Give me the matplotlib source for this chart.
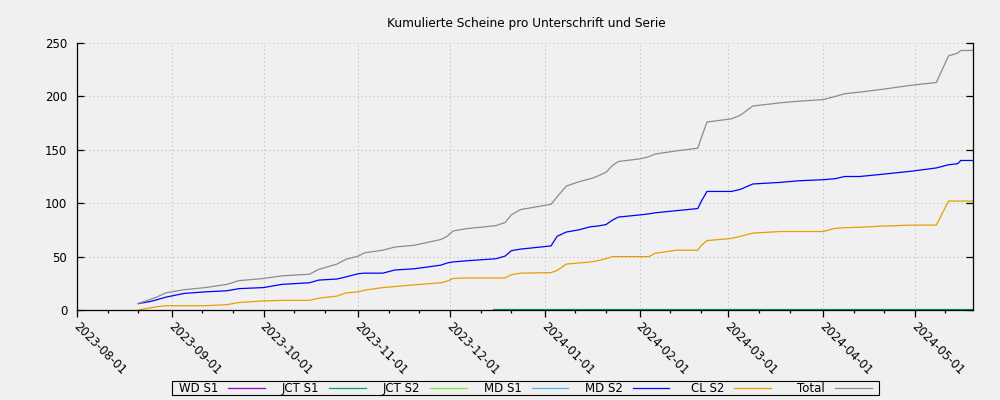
import matplotlib
matplotlib.use("Agg")
import matplotlib.pyplot as plt
import matplotlib.dates as mdates
import matplotlib.transforms as mtransforms
from matplotlib.lines import Line2D
from matplotlib.patches import Rectangle
import pandas as pd

# ---------------- data ----------------
title = "Kumulierte Scheine pro Unterschrift und Serie"

dates = [
    "2023-08-21", "2023-08-25", "2023-08-27", "2023-08-30", "2023-09-05",
    "2023-09-12", "2023-09-19", "2023-09-23", "2023-10-01", "2023-10-07",
    "2023-10-16", "2023-10-19", "2023-10-25", "2023-10-28", "2023-11-01",
    "2023-11-03", "2023-11-09", "2023-11-13", "2023-11-19", "2023-11-28",
    "2023-11-30", "2023-12-02", "2023-12-06", "2023-12-16", "2023-12-19",
    "2023-12-21", "2023-12-24", "2024-01-03", "2024-01-05", "2024-01-08",
    "2024-01-12", "2024-01-16", "2024-01-18", "2024-01-21", "2024-01-23",
    "2024-01-25", "2024-02-01", "2024-02-04", "2024-02-06", "2024-02-13",
    "2024-02-20", "2024-02-21", "2024-02-23", "2024-03-02", "2024-03-05",
    "2024-03-09", "2024-03-18", "2024-03-24", "2024-04-01", "2024-04-05",
    "2024-04-08", "2024-04-13", "2024-04-20", "2024-04-30", "2024-05-08",
    "2024-05-12", "2024-05-15", "2024-05-16", "2024-05-20",
]
total = [
    6, 10, 12, 16, 19,
    21, 24, 27.5, 29.5, 32,
    33.5, 38, 43, 47.5, 50.5,
    53.5, 56, 59, 60.5, 66,
    69, 74, 76, 79, 82,
    89, 94, 99, 106, 116,
    120, 123, 125, 129, 135,
    139, 141.5, 143.5, 146, 149,
    151.5, 160, 176, 179, 182.5,
    191, 194, 195.5, 197, 200,
    202.5, 204, 206.5, 210.5, 213,
    238, 240.5, 243, 243,
]
md_s2 = [
    6, 8, 9.5, 12, 15.5,
    17, 18, 20, 21, 24,
    25.5, 28, 29, 31, 34,
    34.5, 34.5, 37.5, 38.5, 42,
    44, 45, 46, 48, 50.5,
    55.5, 57, 60, 69, 73,
    75, 78, 78.5, 80, 84,
    87, 89, 90, 91, 93,
    95, 101, 111, 111, 113,
    118, 119.5, 121, 122, 123,
    125, 125, 127, 130, 133,
    136, 137, 140, 140,
]
cl_s2 = [
    0, 2, 3, 4, 4,
    4, 5, 7, 8.5, 9,
    9, 11, 13, 16, 17,
    18.5, 21, 22, 23.5, 25.5,
    27, 29.5, 30, 30, 30,
    33, 34.5, 35, 37, 43,
    44, 45, 46, 48, 50,
    50, 50, 50, 53, 56,
    56, 60, 65, 67, 69,
    72, 73.5, 73.5, 73.5, 76.5,
    77, 77.5, 78.5, 79.5, 79.5,
    102, 102, 102, 102,
]
jct_s1_dates = ["2023-12-15", "2024-05-20"]
jct_s1 = [1, 1]
wd_s1_dates, wd_s1 = [], []
jct_s2_dates, jct_s2 = [], []
md_s1_dates, md_s1 = [], []

series_labels = ["WD S1", "JCT S1", "JCT S2", "MD S1", "MD S2", "CL S2", "Total"]
series_colors = ["#9400d3", "#009e73", "#7ced3c", "#56b4e9", "#0000ff", "#e69f00", "#8c8c8c"]

x_start, x_end = "2023-08-01", "2024-05-20"
y_ticks = [0, 50, 100, 150, 200, 250]

# ---------------- plot ----------------
BG = "#f0f0f0"
W, H = 1000, 400
plt.rcParams["font.family"] = ["DejaVu Sans"]
fig = plt.figure(figsize=(10, 4), dpi=100, facecolor=BG)
ax = fig.add_axes([0.077, 0.225, 0.896, 0.6675], facecolor=BG)

d = pd.to_datetime(dates)
series = [
    (pd.to_datetime(wd_s1_dates), wd_s1),
    (pd.to_datetime(jct_s1_dates), jct_s1),
    (pd.to_datetime(jct_s2_dates), jct_s2),
    (pd.to_datetime(md_s1_dates), md_s1),
    (d, md_s2),
    (d, cl_s2),
    (d, total),
]
for (xs, ys), lab, col in zip(series, series_labels, series_colors):
    ax.plot(xs, ys, color=col, lw=0.9, label=lab, solid_joinstyle="round")

ax.set_xlim(pd.Timestamp(x_start), pd.Timestamp(x_end))
ax.set_ylim(0, 250)
ax.set_yticks(y_ticks)

ax.xaxis.set_major_locator(mdates.MonthLocator())
ax.xaxis.set_major_formatter(mdates.DateFormatter("%Y-%m-%d"))
ax.xaxis.set_minor_locator(mdates.DayLocator(bymonthday=[11, 21]))

ax.set_axisbelow(True)
ax.grid(True, which="major", color="#b4b4b4", linestyle=(0, (1, 3)), linewidth=0.72)

for s in ["left", "bottom", "right"]:
    ax.spines[s].set_color("black")
    ax.spines[s].set_linewidth(0.9)
ax.spines["top"].set_visible(False)

ax.tick_params(axis="y", which="both", direction="in", left=True, right=True,
               length=5, width=0.9, labelsize=8.5, pad=7)
ax.tick_params(axis="x", which="major", direction="out", length=5, width=0.9,
               labelsize=8.5, pad=2)
ax.tick_params(axis="x", which="minor", direction="out", length=2.5, width=0.9)

shift = mtransforms.ScaledTranslation(3 / 100, 0, fig.dpi_scale_trans)
for lab in ax.get_xticklabels():
    lab.set_rotation(-45)
    lab.set_ha("left")
    lab.set_va("top")
    lab.set_rotation_mode("anchor")
    lab.set_transform(lab.get_transform() + shift)

fig.text(0.526, 1 - 23 / H, title, ha="center", va="center", fontsize=8.75)

# ---- legend (gnuplot-style: right-aligned label, then sample line) ----
bx0, bx1, by0, by1 = 171.5, 879.0, 381.0, 394.7
fig.add_artist(Rectangle((bx0 / W, 1 - by1 / H), (bx1 - bx0) / W, (by1 - by0) / H,
                         transform=fig.transFigure, facecolor=BG,
                         edgecolor="black", linewidth=0.8))
step = 101.2
for i, (lab, col) in enumerate(zip(series_labels, series_colors)):
    tx = 218.0 + step * i
    lx0, lx1 = 228.0 + step * i, 264.5 + step * i
    fig.text(tx / W, 1 - 392.0 / H, lab, ha="right", va="baseline", fontsize=8.5)
    fig.add_artist(Line2D([lx0 / W, lx1 / W], [1 - 387.5 / H] * 2,
                          transform=fig.transFigure, color=col, lw=0.9))

fig.savefig("out.png", dpi=100, facecolor=BG)
